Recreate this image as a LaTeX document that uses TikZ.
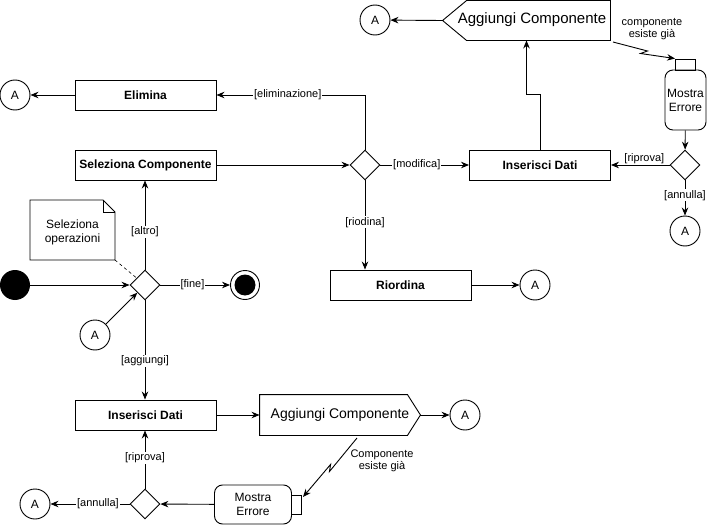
\documentclass[tikz,border=0pt]{standalone}
\usepackage{fontspec}
\setmainfont{Liberation Sans}
\usetikzlibrary{shapes.geometric,arrows.meta,calc}
\begin{document}
\begin{tikzpicture}[x=1pt,y=-1pt, line width=0.9pt,
  >={Stealth[length=8pt,width=6.5pt]},
  act/.style={draw, rectangle, minimum width=141pt, minimum height=30pt, inner sep=0pt, font=\fontsize{12}{14}\selectfont\bfseries},
  dec/.style={draw, diamond, minimum width=30pt, minimum height=30pt, inner sep=0pt},
  conn/.style={draw, circle, minimum size=30pt, inner sep=0pt, font=\fontsize{12}{14}\selectfont},
  lbl/.style={fill=white, inner sep=1pt, font=\fontsize{11}{13}\selectfont},
  txt/.style={inner sep=1pt, font=\fontsize{11}{13}\selectfont, align=center},
  err/.style={draw, rectangle, rounded corners=8pt, align=center, inner sep=0pt, font=\fontsize{12}{14}\selectfont},
  pinbox/.style={draw, rectangle, inner sep=0pt},
  ghost/.style={rectangle, inner sep=0pt}
]
\useasboundingbox (0,0) rectangle (716,530);

% top-left
\node[act] (elim) at (145.5,95) {Elimina};
\node[conn] (a1) at (15,95) {A};
\node[act] (selc) at (145.5,165) {Seleziona Componente};
\node[dec] (d1) at (365,165) {};
\node[act] (ins1) at (540,165) {Inserisci Dati};
\node[act] (rior) at (400.5,285) {Riordina};
\node[conn] (a4) at (535,285) {A};

% top-right
\node[ghost, minimum width=167pt, minimum height=39pt] (ag1) at (526.5,20.5) {};
\draw (ag1.north east) -- ([xshift=24pt]ag1.north west) -- (ag1.west) -- ([xshift=24pt]ag1.south west) -- (ag1.south east) -- cycle;
\node[font=\fontsize{15}{17}\selectfont] (ag1t) at (532,20) {Aggiungi Componente};
\node[conn] (a2) at (375,20) {A};
\node[err, minimum width=41pt, minimum height=60pt] (err1) at (685.5,100) {Mostra\\Errore};
\node[pinbox, minimum width=20pt, minimum height=11pt] (pin1) at (685.5,64.5) {};
\node[dec] (d3) at (685,165) {};
\node[conn] (a3) at (685,231) {A};
\node[txt] (t1) at (652,29) {componente\\[-1pt]esiste già};

% left middle
\node[circle, fill, minimum size=30pt, inner sep=0pt] (start) at (15,285) {};
\node[dec] (d2) at (145,285) {};
\node[circle, draw, minimum size=29pt, inner sep=0pt] (fin) at (245,285) {};
\node[circle, fill, minimum size=21pt, inner sep=0pt] (finin) at (245,285) {};
\node[conn] (a5) at (95,335) {A};
\draw (30,200) -- (103,200) -- (115,212) -- (115,260) -- (30,260) -- cycle;
\draw (103,200) -- (103,212) -- (115,212);
\node[align=center, font=\fontsize{12}{14}\selectfont] (note) at (72.5,232) {Seleziona\\operazioni};
\coordinate (nbr) at (115,260);

% bottom
\node[act] (ins2) at (145.5,415) {Inserisci Dati};
\node[ghost, minimum width=160pt, minimum height=40pt] (ag2) at (340,415) {};
\draw (ag2.north west) -- ([xshift=-13pt]ag2.north east) -- (ag2.east) -- ([xshift=-13pt]ag2.south east) -- (ag2.south west) -- cycle;
\node[font=\fontsize{14}{16}\selectfont] (ag2t) at (340,415) {Aggiungi Componente};
\node[conn] (a6) at (465,415) {A};
\node[err, minimum width=77pt, minimum height=39pt] (err2) at (253,504.5) {Mostra\\Errore};
\node[pinbox, minimum width=10pt, minimum height=19pt] (pin2) at (296.5,504.5) {};
\node[dec] (d4) at (145,504) {};
\node[conn] (a7) at (35,504) {A};
\node[txt] (t2) at (382,461) {Componente\\[-1pt]esiste già};

% connectors
\draw[->] (start) -- (d2);
\draw[->] (d2) -- node[lbl,pos=0.46]{[fine]} (fin);
\draw[->] (a5) -- (d2);
\draw[dashed, line width=0.6pt] (nbr) -- (d2);
\draw[->] (d2.north) -- node[lbl,pos=0.42]{[altro]} (d2.north |- selc.south);
\draw[->] (selc) -- (d1);
\draw[->] (d1.north) |- node[lbl,pos=0.76]{[eliminazione]} (elim.east);
\draw[->] (elim) -- (a1);
\draw[->] (d1) -- node[lbl,pos=0.41]{[modifica]} (ins1);
\draw[->] (d1.south) -- node[lbl,pos=0.47]{[riodina]} (d1.south |- rior.north);
\draw[->] (rior) -- (a4);
\draw[->] (ins1.north) -- ++(0,-55) -| (ag1.south);
\draw[->] (ag1.west) -- (a2);
\coordinate (l1s) at (613,42);
\coordinate (l1a) at (647.5,51);
\coordinate (l1b) at (640.5,53.5);
\draw[->] (l1s) -- (l1a) -- (l1b) -- (pin1.north west);
\draw[->] (err1) -- (d3);
\draw[->] (d3) -- node[txt, above, pos=0.43]{[riprova]} (ins1);
\draw[->] (d3) -- node[lbl,pos=0.42]{[annulla]} (a3);

\draw[->] (d2.south) -- node[lbl,pos=0.61]{[aggiungi]} (d2.south |- ins2.north);
\draw[->] (ins2) -- (ag2.west);
\draw[->] (ag2.east) -- (a6);
\coordinate (l2s) at (357,438);
\coordinate (l2a) at (329.4,471.6);
\coordinate (l2b) at (330.6,464.4);
\coordinate (l2e) at (303,497);
\draw[->] (l2s) -- (l2a) -- (l2b) -- (l2e);
\draw[->] (err2) -- (d4);
\draw[->] (d4.north) -- node[lbl,pos=0.53]{[riprova]} (d4.north |- ins2.south);
\draw[->] (d4) -- node[lbl,pos=0.4]{[annulla]} (a7);
\end{tikzpicture}
\end{document}
